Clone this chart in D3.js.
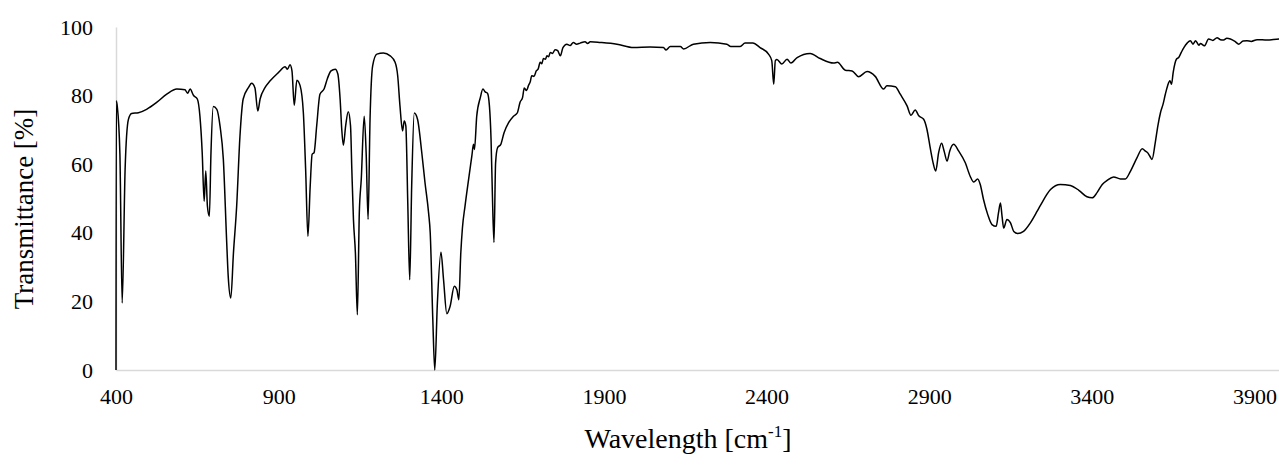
<!DOCTYPE html>
<html>
<head>
<meta charset="utf-8">
<script src="https://cdn.jsdelivr.net/npm/d3@7"></script>
<style>
  body { margin: 0; background: #fff; }
  text { font-family: "Liberation Serif", "Times New Roman", serif; fill: #000; }
</style>
</head>
<body>
<svg id="chart"></svg>
<script>
// spectrum, [wavenumber, transmittance %]
const fingerprint = [
  [400, 0], [401, 78.5], [404, 76.8], [412, 63], [419, 19.5], [428, 58.5], [438, 73], [448, 74.8],
  [469, 75], [494, 76], [525, 78], [556, 80.4], [587, 81.9], [612, 81.7], [620, 80.7], [628, 81.9],
  [638, 80.1], [650, 79], [658, 74], [665, 63.4], [671, 49.2], [676, 58], [681, 47.8], [687, 44.8],
  [692, 63.4], [699, 76.8], [710, 76], [720, 71], [730, 61.4], [740, 38], [745, 27.3], [753, 21],
  [761, 34], [771, 47.8], [781, 68], [791, 79], [807, 82.3], [817, 83.6], [827, 82.3], [836, 75.5],
  [843, 79], [858, 82.3], [874, 84.3], [899, 86.7], [920, 88.4], [927, 87.7], [935, 89], [941, 87.2],
  [948, 77.2], [956, 84.5], [966, 82.9], [976, 75], [983, 58.5], [990, 39], [997, 53.6], [1003, 62.9],
  [1009, 63.4], [1017, 71.2], [1027, 80.4], [1040, 82], [1050, 85], [1061, 87.2], [1074, 87.7],
  [1082, 86.3], [1089, 79], [1094, 70.2], [1099, 65.5], [1106, 71.2], [1114, 75.3], [1121, 71.2],
  [1125, 58.5], [1130, 43.9], [1136, 34.1], [1142, 16.1], [1148, 45.8], [1154, 55.6], [1163, 74],
  [1169, 63.4], [1175, 43.9], [1181, 73.1], [1189, 88.7], [1202, 92.1], [1222, 92.4], [1243, 91.6],
  [1258, 89.7], [1266, 85.8], [1273, 77], [1281, 69.7], [1286, 72.6], [1291, 71.2], [1297, 48.7],
  [1303, 26.3], [1309, 53.6], [1317, 74.9], [1327, 73.1], [1340, 63.4], [1350, 54.6], [1361, 45.8],
  [1366, 40], [1374, 14.6], [1380, 0], [1388, 19.5], [1399, 34.3], [1407, 26.3], [1417, 16.4],
  [1427, 18.5], [1440, 24.4], [1448, 23.4], [1454, 20.5], [1460, 34.1], [1465, 41.4], [1473, 47.8],
  [1484, 55.6], [1494, 62.4], [1499, 65.8], [1502, 64.3], [1509, 74], [1520, 79.4], [1528, 81.9],
  [1535, 81.1], [1542, 80.7], [1548, 77], [1553, 67.3], [1557, 51.7], [1562, 37.2], [1567, 60.4],
  [1573, 64.8], [1583, 65.8], [1593, 69.2]
];

const midRegion = [
  [1607, 72.1], [1622, 74], [1634, 75], [1642, 78], [1650, 79.5], [1655, 82.2], [1662, 81.5],
  [1668, 82.9], [1674, 84.2], [1678, 85.8], [1685, 85.6], [1692, 87.2], [1698, 87.8], [1704, 89.7],
  [1709, 89.3], [1714, 90.8], [1720, 90.6], [1725, 91.6], [1730, 91.3], [1735, 92.6], [1742, 92.3],
  [1750, 93.4], [1758, 93.1], [1766, 91.6], [1774, 94], [1786, 95], [1796, 94.6], [1806, 95.5],
  [1816, 95], [1827, 95.3], [1842, 95.7], [1850, 95.2], [1858, 95.7], [1889, 95.5], [1940, 95],
  [1991, 94], [2042, 94.2], [2083, 94], [2091, 93.3], [2104, 94.3], [2135, 94.3], [2145, 93.6],
  [2175, 95], [2227, 95.5], [2278, 95], [2290, 94.3], [2319, 94.3], [2334, 95.3], [2358, 95.3],
  [2380, 94], [2406, 92.1], [2416, 90.2], [2422, 83.3], [2427, 90.2], [2432, 90.5], [2447, 89.2],
  [2463, 90.6], [2475, 89.5], [2494, 91.1], [2534, 92.3], [2565, 90.8], [2606, 89.5], [2618, 89.7],
  [2642, 87.4], [2663, 87.2], [2683, 85.5], [2709, 87], [2734, 85.6], [2760, 81.9], [2770, 82.9],
  [2796, 82.6], [2811, 80.4], [2832, 77], [2844, 74.3], [2857, 75.8], [2868, 74.1], [2883, 73.1],
  [2893, 70.2]
];

const ohRegion = [
  [2904, 64.3], [2912, 60.4], [2920, 58], [2929, 63.4], [2938, 66.1], [2946, 63.8], [2955, 60.9],
  [2963, 63.8], [2975, 65.8], [2991, 63.8], [3011, 60.4], [3026, 56.5], [3037, 54.8], [3049, 55.7],
  [3057, 54.1], [3067, 49.7], [3080, 45.3], [3093, 42.4], [3106, 41.9], [3113, 45.8], [3119, 48.7],
  [3124, 44.8], [3129, 41.4], [3139, 43.9], [3150, 42.9], [3160, 40.4], [3172, 39.8], [3190, 40.4],
  [3211, 42.9], [3232, 46.3], [3242, 48], [3273, 52.6], [3303, 54.1], [3334, 53.8], [3360, 52.4],
  [3385, 50.5], [3401, 50.2], [3416, 51.7], [3432, 54.1], [3447, 55.3], [3467, 56.3], [3488, 55.7],
  [3503, 55.7], [3519, 58], [3539, 61.9], [3555, 64.5], [3565, 63.8], [3572, 63.3], [3578, 62.4],
  [3585, 61.4], [3595, 66.3], [3603, 71.2], [3611, 75], [3619, 77.5], [3626, 80.4], [3633, 82.9],
  [3640, 84.3], [3645, 83.3], [3650, 86.7], [3660, 90.6], [3667, 91.1], [3675, 92.6], [3683, 94],
  [3693, 95.3], [3703, 96], [3711, 95], [3719, 96], [3729, 94.7], [3734, 95.2], [3746, 94.5],
  [3759, 96.5], [3772, 96.1], [3785, 96.9], [3795, 96.3], [3805, 96.2], [3815, 96.7], [3826, 96.5],
  [3840, 95.8], [3852, 95], [3865, 95.9], [3877, 96], [3890, 95.8], [3908, 96.3], [3939, 96.2],
  [3977, 96.5], [4000, 96.2]
];

const xTicks = [400, 900, 1400, 1900, 2400, 2900, 3400, 3900];
const yTicks = [0, 20, 40, 60, 80, 100];

const width = 1279;
const height = 471;

const spectrum = fingerprint.concat(midRegion, ohRegion);

const svg = d3.select("#chart")
    .attr("width", width)
    .attr("height", height);

const x = d3.scaleLinear().domain([400, 4000]).range([116, 1287]);
const y = d3.scaleLinear().domain([0, 100]).range([370, 27]);

// axes, light grey, no tick marks
const xAxis = svg.append("g")
    .attr("transform", "translate(0," + y(0) + ")")
    .call(d3.axisBottom(x).tickValues(xTicks).tickFormat(d3.format("d")).tickSize(0).tickPadding(18));

const yAxis = svg.append("g")
    .attr("transform", "translate(" + x(400) + ",0)")
    .call(d3.axisLeft(y).tickValues(yTicks).tickFormat(d3.format("d")).tickSize(0).tickPadding(23));

[xAxis, yAxis].forEach(g => {
    g.select(".domain").attr("stroke", "#d9d9d9").attr("stroke-width", 1.5);
    g.selectAll("text")
        .attr("font-family", "Liberation Serif, Times New Roman, serif")
        .attr("font-size", 22)
        .attr("fill", "#000");
});

const line = d3.line()
    .x(d => x(d[0]))
    .y(d => y(d[1]))
    .curve(d3.curveMonotoneX);

svg.append("path")
    .datum(spectrum)
    .attr("fill", "none")
    .attr("stroke", "#000")
    .attr("stroke-width", 1.5)
    .attr("d", line);

svg.append("text")
    .attr("transform", "translate(33,209) rotate(-90)")
    .attr("text-anchor", "middle")
    .attr("font-size", 27)
    .text("Transmittance [%]");

const xt = svg.append("text")
    .attr("x", 688)
    .attr("y", 448)
    .attr("text-anchor", "middle")
    .attr("font-size", 28);
xt.append("tspan").text("Wavelength [cm");
xt.append("tspan").attr("font-size", 17).attr("dy", -11).text("-1");
xt.append("tspan").attr("dy", 11).text("]");
</script>
</body>
</html>
